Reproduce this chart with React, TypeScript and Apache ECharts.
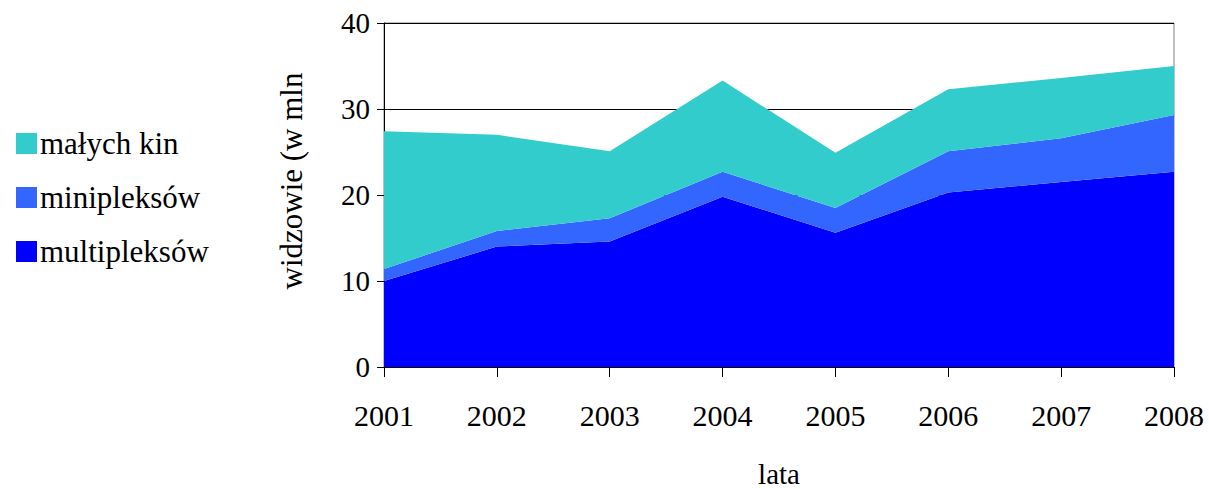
import React, { useEffect, useRef } from "react";
import * as echarts from "echarts";

const years = ["2001", "2002", "2003", "2004", "2005", "2006", "2007", "2008"];
const multipleksow = [10.0, 14.0, 14.6, 19.8, 15.6, 20.3, 21.5, 22.7];
const minipleksow = [1.4, 1.8, 2.7, 2.9, 2.9, 4.8, 5.1, 6.6];
const malychKin = [16.0, 11.2, 7.8, 10.6, 6.4, 7.2, 7.0, 5.7];

const FONT = "Times New Roman, Liberation Serif, DejaVu Serif, serif";

export default function App() {
  const ref = useRef<HTMLDivElement>(null);
  useEffect(() => {
    if (!ref.current) return;
    const chart = echarts.init(ref.current, undefined, { renderer: "svg" });
    const mk = (name: string, data: number[], color: string) => ({
      name,
      type: "line",
      stack: "total",
      data,
      symbol: "none",
      lineStyle: { width: 0 },
      areaStyle: { color, opacity: 1 },
      itemStyle: { color },
    });
    chart.setOption({
      animation: false,
      textStyle: { fontFamily: FONT },
      grid: {
        left: 384,
        right: 35,
        top: 23,
        bottom: 122,
        outerBoundsMode: "none",
        containLabel: false,
        show: true,
        borderColor: "#808080",
        borderWidth: 1,
        backgroundColor: "transparent",
      },
      legend: {
        orient: "vertical",
        left: 11,
        top: 123,
        itemWidth: 21,
        itemHeight: 21,
        itemGap: 23,
        icon: "rect",
        data: ["małych kin", "minipleksów", "multipleksów"],
        textStyle: { fontFamily: FONT, fontSize: 31, color: "#000", lineHeight: 30, padding: [0, 0, 0, -2] },
      },
      xAxis: {
        type: "category",
        data: years,
        boundaryGap: false,
        name: "lata",
        nameLocation: "middle",
        nameGap: 92,
        nameTextStyle: { fontFamily: FONT, fontSize: 29, color: "#000" },
        axisLine: { lineStyle: { color: "#000", width: 1 } },
        axisTick: { show: true, length: 10, alignWithLabel: true, lineStyle: { color: "#000" } },
        axisLabel: { fontFamily: FONT, fontSize: 30, color: "#000", margin: 33 },
        splitLine: { show: false },
      },
      yAxis: {
        type: "value",
        min: 0,
        max: 40,
        interval: 10,
        name: "widzowie (w mln",
        nameLocation: "middle",
        nameGap: 77,
        nameTextStyle: { fontFamily: FONT, fontSize: 31, color: "#000", padding: [0, 0, 0, 28] },
        axisLine: { show: true, lineStyle: { color: "#000", width: 1 } },
        axisTick: { show: true, length: 7, lineStyle: { color: "#000" } },
        axisLabel: { fontFamily: FONT, fontSize: 29, color: "#000", margin: 14 },
        splitLine: { show: true, lineStyle: { color: "#000", width: 1 } },
      },
      series: [
        mk("multipleksów", multipleksow, "#0000FF"),
        mk("minipleksów", minipleksow, "#3366FF"),
        mk("małych kin", malychKin, "#33CCCC"),
      ],
    });
    return () => chart.dispose();
  }, []);
  return <div ref={ref} style={{ width: 1209, height: 489, position: "absolute", left: 0, top: 0 }} />;
}
